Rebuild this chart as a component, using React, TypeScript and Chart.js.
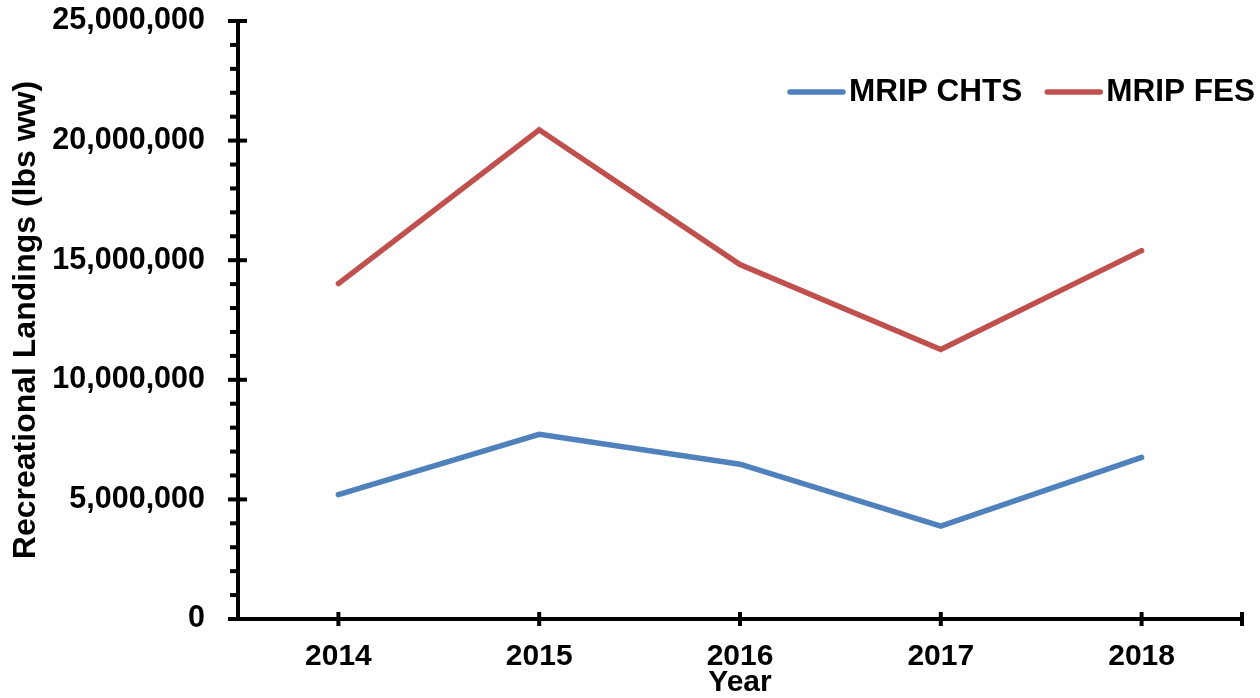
import React, { useEffect, useRef } from 'react';
import { Chart, registerables } from 'chart.js';

Chart.register(...registerables);

// ---- data ----
const years: string[] = ['2014', '2015', '2016', '2017', '2018'];
const chtsValues: number[] = [5200000, 7720000, 6470000, 3880000, 6760000];
const fesValues: number[] = [14020000, 20450000, 14820000, 11270000, 15400000];
const seriesLabels: string[] = ['MRIP CHTS', 'MRIP FES'];
const seriesColors: string[] = ['#4F81BD', '#C0504D'];
const yMin = 0;
const yMax = 25000000;
const majorStep = 5000000;
const minorStep = 1000000;
const yTitle = 'Recreational Landings (lbs ww)';
const xTitle = 'Year';

const FONT_FAMILY = '"Liberation Sans", Arial, Helvetica, sans-serif';

const axisTicksPlugin = {
  id: 'axisTicks',
  afterDatasetsDraw(chart: any) {
    const { ctx, chartArea } = chart;
    const ys = chart.scales.y;
    const xs = chart.scales.x;
    ctx.save();
    ctx.strokeStyle = '#000';
    ctx.lineWidth = 4;
    ctx.lineCap = 'butt';
    // y ticks (major cross the axis, minor outside)
    for (let v = yMin; v <= yMax; v += minorStep) {
      const py = ys.getPixelForValue(v);
      const major = v % majorStep === 0;
      ctx.beginPath();
      ctx.moveTo(chartArea.left - (major ? 10 : 8), py);
      ctx.lineTo(chartArea.left + (major ? 9 : 0), py);
      ctx.stroke();
    }
    // x ticks at categories, crossing the axis
    const by = chartArea.bottom;
    years.forEach((_, i) => {
      const px = xs.getPixelForValue(i);
      ctx.beginPath();
      ctx.moveTo(px, by - 7);
      ctx.lineTo(px, by + 7);
      ctx.stroke();
    });
    ctx.beginPath();
    ctx.moveTo(chartArea.right, by - 7);
    ctx.lineTo(chartArea.right, by + 7);
    ctx.stroke();
    ctx.restore();
  },
};

const legendPlugin = {
  id: 'customLegend',
  afterDraw(chart: any) {
    const { ctx } = chart;
    ctx.save();
    ctx.font = `bold 31.5px ${FONT_FAMILY}`;
    ctx.textBaseline = 'middle';
    ctx.textAlign = 'left';
    const lineLen = 53;
    const gapLineText = 6;
    const gapItems = 25;
    const ly = 92;
    const items = chart.data.datasets.map((d: any) => ({
      label: d.label,
      color: d.borderColor,
      w: ctx.measureText(d.label).width,
    }));
    let total = 0;
    items.forEach((it: any, i: number) => {
      total += lineLen + gapLineText + it.w + (i > 0 ? gapItems : 0);
    });
    let x = 1255 - total;
    items.forEach((it: any, i: number) => {
      if (i > 0) x += gapItems;
      ctx.strokeStyle = it.color;
      ctx.lineWidth = 5.5;
      ctx.lineCap = 'round';
      ctx.beginPath();
      ctx.moveTo(x, ly);
      ctx.lineTo(x + lineLen, ly);
      ctx.stroke();
      x += lineLen + gapLineText;
      ctx.fillStyle = '#000';
      ctx.fillText(it.label, x, ly);
      x += it.w;
    });
    ctx.restore();
  },
};

export default function App() {
  const canvasRef = useRef<HTMLCanvasElement | null>(null);

  useEffect(() => {
    const canvas = canvasRef.current;
    if (!canvas) return;
    const chart = new Chart(canvas, {
      type: 'line',
      data: {
        labels: years,
        datasets: [
          {
            label: seriesLabels[0],
            data: chtsValues,
            borderColor: seriesColors[0],
            backgroundColor: seriesColors[0],
            borderWidth: 5.5,
            pointRadius: 0,
            tension: 0,
            borderCapStyle: 'round',
            borderJoinStyle: 'miter',
            fill: false,
          },
          {
            label: seriesLabels[1],
            data: fesValues,
            borderColor: seriesColors[1],
            backgroundColor: seriesColors[1],
            borderWidth: 5.5,
            pointRadius: 0,
            tension: 0,
            borderCapStyle: 'round',
            borderJoinStyle: 'miter',
            fill: false,
          },
        ],
      },
      options: {
        animation: false,
        responsive: false,
        maintainAspectRatio: false,
        layout: { padding: { left: 0, right: 18, top: 21, bottom: 0 } },
        plugins: {
          legend: { display: false },
          tooltip: { enabled: false },
        },
        scales: {
          x: {
            type: 'category',
            offset: true,
            grid: { display: false, drawTicks: false },
            border: { display: true, color: '#000', width: 4 },
            ticks: {
              color: '#000',
              padding: 20,
              font: { family: FONT_FAMILY, size: 30, weight: 'bold' },
            },
            title: {
              display: true,
              text: xTitle,
              color: '#000',
              padding: { top: 0, bottom: -3 },
              font: { family: FONT_FAMILY, size: 30, weight: 'bold' },
            },
            afterFit: (s: any) => {
              s.height = 79;
              s.paddingLeft = 0;
              s.paddingRight = 0;
            },
          },
          y: {
            type: 'linear',
            min: yMin,
            max: yMax,
            grid: { display: false, drawTicks: false },
            border: { display: true, color: '#000', width: 4 },
            ticks: {
              stepSize: majorStep,
              color: '#000',
              padding: 33,
              font: { family: FONT_FAMILY, size: 30.5, weight: 'bold' },
              callback: (v: any) => Number(v).toLocaleString('en-US'),
            },
            title: {
              display: true,
              text: yTitle,
              color: '#000',
              padding: { top: 7, bottom: 0 },
              font: { family: FONT_FAMILY, size: 32, weight: 'bold' },
            },
            afterFit: (s: any) => {
              s.width = 238;
              s.paddingTop = 0;
              s.paddingBottom = 0;
            },
          },
        },
      },
      plugins: [axisTicksPlugin, legendPlugin],
    } as any);
    return () => chart.destroy();
  }, []);

  return (
    <div style={{ position: 'fixed', left: 0, top: 0, width: 1260, height: 698, background: '#fff' }}>
      <canvas ref={canvasRef} width={1260} height={698} style={{ width: 1260, height: 698, display: 'block' }} />
    </div>
  );
}
